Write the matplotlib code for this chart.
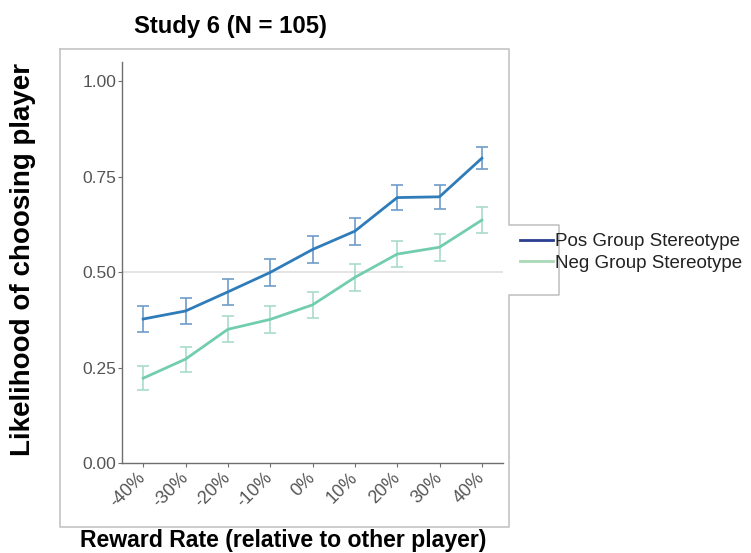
import numpy as np
import matplotlib.pyplot as plt
from matplotlib.lines import Line2D

plt.rcParams['font.family'] = ['Liberation Sans', 'DejaVu Sans']

# reward rate conditions and mean choice likelihood (+/- SE)
reward_rates = ['-40%', '-30%', '-20%', '-10%', '0%', '10%', '20%', '30%', '40%']
pos_mean = [0.377, 0.398, 0.448, 0.499, 0.559, 0.607, 0.695, 0.697, 0.798]
pos_se = [0.035, 0.034, 0.035, 0.035, 0.035, 0.035, 0.033, 0.032, 0.029]
neg_mean = [0.222, 0.272, 0.350, 0.376, 0.414, 0.486, 0.547, 0.565, 0.636]
neg_se = [0.031, 0.033, 0.034, 0.035, 0.035, 0.035, 0.035, 0.035, 0.034]

x = np.arange(len(reward_rates))

fig = plt.figure(figsize=(7.51, 5.53), dpi=100)
W, H = 751, 553

def fx(px):
    return px / W

def fy(py):
    return 1 - py / H

ax = fig.add_axes([fx(122), fy(463), fx(503) - fx(122), fy(62) - fy(463)])

ax.axhline(0.5, color='#dcdcdc', lw=1.1, zorder=0)

ax.errorbar(x, pos_mean, yerr=pos_se, fmt='none', ecolor='#6f9cc8',
            elinewidth=1.2, capsize=4, capthick=1.2, zorder=2)
ax.errorbar(x, neg_mean, yerr=neg_se, fmt='none', ecolor='#a9dcc8',
            elinewidth=1.2, capsize=4, capthick=1.2, zorder=2)
ax.plot(x, pos_mean, color='#2f7cba', lw=2.0, zorder=3)
ax.plot(x, neg_mean, color='#72cdb0', lw=2.0, zorder=3)

ax.set_xlim(-0.5, 8.5)
ax.set_ylim(0, 1.05)
ax.set_yticks([0, 0.25, 0.5, 0.75, 1.0])
ax.set_yticklabels(['0.00', '0.25', '0.50', '0.75', '1.00'])
ax.set_xticks(x)
ax.set_xticklabels(reward_rates, rotation=45, ha='right', va='center',
                   rotation_mode='anchor', fontsize=13)

for side in ['top', 'right']:
    ax.spines[side].set_visible(False)
for side in ['left', 'bottom']:
    ax.spines[side].set_color('#6e6e6e')
    ax.spines[side].set_linewidth(1.0)
ax.tick_params(axis='both', colors='#6e6e6e', labelcolor='#555555',
               length=3, width=0.8)
ax.tick_params(axis='y', pad=1, labelsize=12.5)
ax.tick_params(axis='x', pad=6)

# panel border with the legend tab on the right
bx = [60, 509, 509, 559, 559, 509, 509, 60, 60]
by = [49, 49, 225, 225, 295, 295, 527, 527, 49]
fig.add_artist(Line2D([fx(v) for v in bx], [fy(v) for v in by],
                      color='#c4c4c4', lw=1.2, transform=fig.transFigure))

handles = [Line2D([], [], color='#2b3f92', lw=2.0),
           Line2D([], [], color='#a9d9b6', lw=2.0)]
fig.legend(handles, ['Pos Group Stereotype', 'Neg Group Stereotype'],
           loc='upper left', bbox_to_anchor=(fx(511), fy(224)),
           frameon=False, fontsize=13.5, handlelength=1.75,
           handletextpad=0.12, labelspacing=0.22, borderpad=0,
           labelcolor='#222222')

fig.text(fx(230), fy(27), 'Study 6 (N = 105)', ha='center', va='center',
         fontsize=17.2, fontweight='bold')
fig.text(fx(23), fy(260), 'Likelihood of choosing player', ha='center',
         va='center', rotation=90, fontsize=20, fontweight='bold')
fig.text(fx(283), fy(540), 'Reward Rate (relative to other player)',
         ha='center', va='center', fontsize=16.6, fontweight='bold')

fig.savefig('out.png', dpi=100)
